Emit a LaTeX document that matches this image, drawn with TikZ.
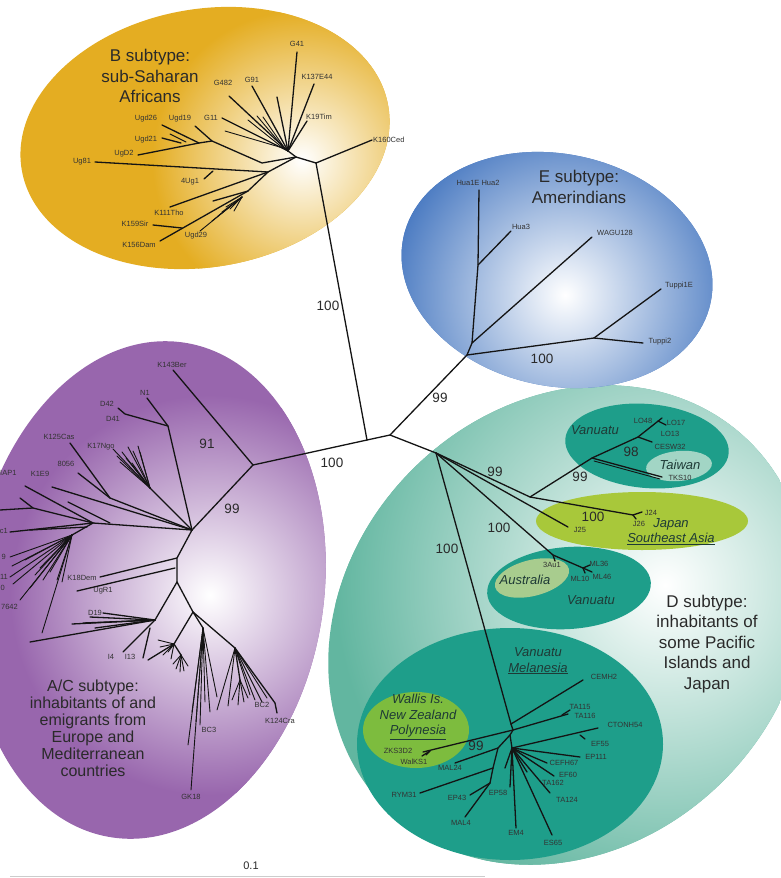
\documentclass[tikz,border=0pt]{standalone}
\usepackage{fontspec}
\setmainfont{Liberation Sans}
\definecolor{bgold}{HTML}{E4AD22}
\definecolor{bblue}{HTML}{4B7BC2}
\definecolor{bpurp}{HTML}{9866AD}
\definecolor{dteal}{HTML}{62B6A0}
\definecolor{vteal}{HTML}{1E9E8A}
\definecolor{twn}{HTML}{A2D5C5}
\definecolor{jpn}{HTML}{A8C83A}
\definecolor{aus}{HTML}{A8CC8E}
\definecolor{wal}{HTML}{7DBC3E}
\definecolor{txt}{HTML}{2A2A2A}
\definecolor{labc}{HTML}{333333}
\definecolor{regc}{HTML}{1E3A36}
\tikzset{
  br/.style={line width=1.3pt, line cap=round, draw=black!92},
  thn/.style={line width=0.9pt, line cap=round, draw=black!92},
  lbl/.style={font=\fontsize{7.5}{8}\selectfont, text=labc, inner sep=0pt},
  boot/.style={font=\fontsize{13.5}{15}\selectfont, text=txt, inner sep=0pt},
  ttl/.style={font=\fontsize{17}{20.5}\selectfont, align=center, text=txt, inner sep=0pt},
  ttlb/.style={font=\fontsize{16}{17}\selectfont, align=center, text=txt, inner sep=0pt},
  reg/.style={font=\itshape\fontsize{13}{15.5}\selectfont, text=regc, inner sep=0pt, align=center},
}
\begin{document}
\begin{tikzpicture}[x=1pt,y=-1pt]
\useasboundingbox (0,0) rectangle (780,878);
\fill[white] (0,0) rectangle (780,878);

% ---------- D outer ellipse ----------
\begin{scope}
\clip[rotate around={45:(568,625)}] (568,625) ellipse [x radius=258, y radius=220];
\fill[dteal] (0,0) rectangle (780,878);
\shade[inner color=white, outer color=dteal] (665,585) circle (330);
\end{scope}
% inner D ellipses
\fill[vteal, rotate around={-5:(647,446)}] (647,446) ellipse [x radius=82, y radius=42];
\fill[twn, rotate around={5:(679,466)}] (679,466) ellipse [x radius=33, y radius=15];
\fill[jpn] (642,521) ellipse [x radius=106, y radius=29];
\fill[vteal, rotate around={4:(569,588)}] (569,588) ellipse [x radius=82, y radius=41];
\fill[aus, rotate around={14:(532,578)}] (532,578) ellipse [x radius=38, y radius=18];
\fill[vteal] (510,744) ellipse [x radius=153, y radius=116];
\fill[wal] (416,730) ellipse [x radius=53, y radius=38];

% ---------- A/C ellipse ----------
\begin{scope}
\clip[rotate around={-8:(148,590)}] (148,590) ellipse [x radius=176, y radius=250];
\fill[bpurp] (0,0) rectangle (780,878);
\shade[inner color=white, outer color=bpurp] (210,595) circle (200);
\end{scope}

% ---------- E ellipse ----------
\begin{scope}
\clip[rotate around={-12:(557,270)}] (557,270) ellipse [x radius=157, y radius=116];
\fill[bblue] (0,0) rectangle (780,878);
\shade[inner color=white, outer color=bblue] (565,295) circle (175);
\end{scope}

% ---------- B ellipse ----------
\begin{scope}
\clip[rotate around={10:(205,138)}] (205,138) ellipse [x radius=186, y radius=129];
\fill[bgold] (0,0) rectangle (780,878);
\shade[inner color=white, outer color=bgold] (302,160) circle (150);
\end{scope}

% ---------- central backbone ----------
\coordinate (c1) at (367,440);
\coordinate (c2) at (390,435);
\coordinate (bR) at (316,163);
\coordinate (eR) at (467,355);
\coordinate (dR) at (436,453);
\coordinate (aR) at (253,465);
\draw[br] (bR) -- (c1) -- (c2) -- (eR);
\draw[br] (c2) -- (dR);
\draw[br] (c1) -- (aR);
\node[boot] (bs1) at (328,306) {100};
\node[boot] (bs2) at (332,463) {100};
\node[boot] (bs3) at (440,398) {99};

% ---------- B subtree ----------
\coordinate (b1) at (296,157);
\coordinate (b2) at (288,151);
\coordinate (n2) at (262,163);
\coordinate (n3) at (212,141);
\coordinate (n3b) at (199,143);
\coordinate (n4) at (268,172);
\coordinate (n5) at (248,191);
\draw[br] (bR) -- (372,140);
\draw[br] (bR) -- (b1) -- (b2);
\foreach \p in {(297,52),(314,84),(307,121),(277,97),(252,86),(229,96),(222,118)} \draw[br] (b2) -- \p;
\draw[thn] (283,148) -- (225,131);
\draw[thn] (283,148) -- (248,120);
\draw[thn] (285,149) -- (257,116);
\draw[thn] (286,150) -- (263,117);
\draw[br] (b1) -- (n2) -- (n3) -- (195,126);
\draw[br] (n3) -- (n3b) -- (162,125);
\draw[br] (n3b) -- (138,155);
\draw[br] (181,143) -- (162,138);
\draw[thn] (186,142) -- (170,134);
\draw[br] (b1) -- (n4) -- (95,162);
\draw[br] (213,171) -- (204,179);
\draw[br] (n4) -- (170,207);
\draw[br] (n4) -- (n5) -- (160,241);
\draw[br] (182,228) -- (153,225);
\draw[br] (n5) -- (213,201);
\foreach \p in {(226,207),(230,209),(234,211),(222,212),(218,216),(212,221),(200,231)} \draw[thn] (242,197) -- \p;
\node[lbl, anchor=west] (k160) at (373,140) {K160Ced};
\node[lbl] (g41) at (297,44) {G41};
\node[lbl] (k137) at (317,77) {K137E44};
\node[lbl] (k19) at (319,117) {K19Tim};
\node[lbl] (g482) at (223,83) {G482};
\node[lbl] (g91) at (252,80) {G91};
\node[lbl] (g11) at (211,118) {G11};
\node[lbl] (u26) at (146,119) {Ugd26};
\node[lbl] (u19) at (180,119) {Ugd19};
\node[lbl] (u21) at (146,140) {Ugd21};
\node[lbl] (ud2) at (124,154) {UgD2};
\node[lbl] (u81) at (82,162) {Ug81};
\node[lbl] (u4) at (190,182) {4Ug1};
\node[lbl] (k111) at (169,213) {K111Tho};
\node[lbl] (k159) at (135,224) {K159Sir};
\node[lbl] (k156) at (139,245) {K156Dam};
\node[lbl] (u29) at (196,236) {Ugd29};
\node[ttl] (bt) at (150,76) {B subtype:\\sub-Saharan\\Africans};

% ---------- E subtree ----------
\coordinate (e1) at (472,343);
\coordinate (e2) at (478,265);
\coordinate (e3) at (594,338);
\draw[br] (eR) -- (e1) -- (e2) -- (479,190);
\draw[br] (e2) -- (511,231);
\draw[br] (e1) -- (592,237);
\draw[br] (eR) -- (e3) -- (661,289);
\draw[br] (e3) -- (643,343);
\node[lbl] (h1e) at (478,183) {Hua1E Hua2};
\node[lbl] (h3) at (521,227) {Hua3};
\node[lbl] (wg) at (615,233) {WAGU128};
\node[lbl] (t1) at (679,286) {Tuppi1E};
\node[lbl] (t2) at (660,342) {Tuppi2};
\node[boot] (be) at (542,359) {100};
\node[ttl] (et) at (579,187) {E subtype:\\Amerindians};

% ---------- A/C subtree ----------
\coordinate (a1) at (192,530);
\coordinate (aN) at (168,426);
\coordinate (kc) at (150,488);
\coordinate (h0) at (110,498);
\coordinate (h1) at (93,523);
\coordinate (hb) at (72,535);
\coordinate (a2) at (177,558);
\coordinate (a3) at (177,582);
\coordinate (a4) at (155,620);
\coordinate (a5) at (193,612);
\coordinate (a6) at (203,628);
\coordinate (a7) at (235,648);
\coordinate (ac) at (174,644);
\draw[br] (aR) -- (173,370);
\draw[br] (aR) -- (a1);
\draw[br] (a1) -- (aN) -- (147,398);
\draw[br] (aN) -- (125,414) -- (118,408);
\draw[br] (a1) -- (kc);
\foreach \p in {(113,449),(122,452),(128,447),(133,451),(138,446),(140,452),(126,458),(120,462),(132,463),(117,456)} \draw[thn] (kc) -- \p;
\draw[br] (a1) -- (h0) -- (70,443);
\draw[br] (h0) -- (78,473);
\draw[br] (a1) -- (52,487);
\draw[br] (a1) -- (h1) -- (25,486);
\draw[br] (h1) -- (33,508) -- (0,510);
\draw[br] (33,508) -- (20,498);
\draw[br] (110,523) -- (68,502);
\draw[br] (h1) -- (10,532);
\draw[br] (87,527) -- (30,530);
\draw[br] (h1) -- (hb);
\foreach \p in {(10,557),(12,566),(10,577),(13,584),(20,600),(43,580),(30,588),(40,568),(25,560),(57,580),(62,582),(42,633),(35,575),(50,572)} \draw[thn] (hb) -- \p;
\draw[br] (a1) -- (a2) -- (a3);
\draw[br] (a2) -- (100,577);
\draw[br] (175,568) -- (77,591);
\draw[br] (a3) -- (a4);
\foreach \p in {(103,613),(30,642),(90,617),(83,623),(72,624),(95,628)} \draw[br] (a4) -- \p;
\draw[br] (a4) -- (123,652);
\draw[br] (150,628) -- (143,658);
\draw[br] (a3) -- (a5);
\draw[br] (a5) -- (ac) -- (148,660);
\foreach \p in {(158,640),(160,647),(163,655),(168,652),(171,659)} \draw[thn] (ac) -- \p;
\foreach \p in {(176,669),(180,672),(184,671),(188,666),(173,664)} \draw[thn] (181,655) -- \p;
\draw[br] (ac) -- (181,655);
\draw[br] (a5) -- (a6);
\foreach \p in {(191,790),(188,745),(192,712),(196,722),(200,725),(210,712),(217,697),(205,702)} \draw[thn] (a6) -- \p;
\draw[br] (a5) -- (a7);
\foreach \p in {(217,710),(228,706),(255,700),(262,702),(267,698),(250,695)} \draw[thn] (a7) -- \p;
\draw[br] (a7) -- (240,680);
\foreach \p in {(232,700),(238,705),(244,702),(248,698)} \draw[thn] (240,680) -- \p;
\draw[br] (a7) -- (275,703) -- (277,713);
\node[lbl] (k143) at (172,365) {K143Ber};
\node[lbl] (nn1) at (145,393) {N1};
\node[lbl] (d42) at (107,404) {D42};
\node[lbl] (d41) at (113,419) {D41};
\node[lbl] (k125) at (59,437) {K125Cas};
\node[lbl] (k17) at (101,447) {K17Ngo};
\node[lbl] (l8056) at (66,464) {8056};
\node[lbl, anchor=west] (iap) at (0,473) {IAP1};
\node[lbl] (k1e9) at (40,474) {K1E9};
\node[lbl, anchor=east] (lc1) at (8,531) {c1};
\node[lbl, anchor=east] (l9) at (6,557) {9};
\node[lbl, anchor=east] (l11) at (8,577) {11};
\node[lbl, anchor=east] (l0) at (5,588) {0};
\node[lbl, anchor=east] (l7642) at (18,607) {7642};
\node[lbl] (k18) at (82,578) {K18Dem};
\node[lbl] (ugr) at (103,591) {UgR1};
\node[lbl] (d19) at (95,613) {D19};
\node[lbl] (i4) at (111,657) {I4};
\node[lbl] (i13) at (130,657) {I13};
\node[lbl] (bc2) at (262,705) {BC2};
\node[lbl] (k124) at (280,721) {K124Cra};
\node[lbl] (bc3) at (209,730) {BC3};
\node[lbl] (gk18) at (191,797) {GK18};
\node[boot] (b91) at (207,444) {91};
\node[boot] (b99a) at (232,509) {99};
\node[ttlb] (at) at (93,728) {A/C subtype:\\inhabitants of and\\emigrants from\\Europe and\\Mediterranean\\countries};

% ---------- D subtree ----------
\coordinate (d1) at (530,497);
\coordinate (d2) at (592,458);
\coordinate (d3) at (638,437);
\coordinate (dj) at (633,515);
\coordinate (dau) at (553,555);
\coordinate (dml) at (583,568);
\coordinate (dm) at (511,724);
\draw[br] (dR) -- (d1) -- (d2) -- (d3) -- (662,418);
\draw[br] (658,421) -- (666,425);
\draw[br] (d3) -- (652,442);
\draw[br] (d2) -- (662,477);
\draw[thn] (594,461) -- (660,479);
\draw[br] (d1) -- (dj);
\draw[br] (dj) -- (642,512);
\draw[br] (dj) -- (636,519);
\draw[br] (dR) -- (568,527);
\draw[br] (dR) -- (dau) -- (dml);
\draw[br] (dau) -- (555,561);
\draw[br] (dml) -- (590,565);
\draw[br] (dml) -- (592,572);
\draw[br] (dml) -- (585,573);
\draw[br] (dR) -- (dm);
\node[lbl] (lo48) at (643,421) {LO48};
\node[lbl] (lo17) at (676,423) {LO17};
\node[lbl] (lo13) at (670,434) {LO13};
\node[lbl] (cesw) at (670,447) {CESW32};
\node[lbl] (tks) at (680,478) {TKS10};
\node[lbl] (j24) at (651,513) {J24};
\node[lbl] (j26) at (639,524) {J26};
\node[lbl] (j25) at (580,530) {J25};
\node[lbl] (au1) at (552,565) {3Au1};
\node[lbl] (ml36) at (599,564) {ML36};
\node[lbl] (ml10) at (580,579) {ML10};
\node[lbl] (ml46) at (602,577) {ML46};
\node[boot] (b98) at (631,452) {98};
\node[boot] (b99b) at (580,477) {99};
\node[boot] (b99c) at (495,472) {99};
\node[boot] (b100a) at (593,517) {100};
\node[boot] (b100b) at (499,528) {100};
\node[boot] (b100c) at (447,549) {100};
% Melanesia
\coordinate (m1) at (513,730);
\coordinate (m2) at (510,735);
\coordinate (m3) at (512,748);
\coordinate (ml) at (498,748);
\coordinate (ml2) at (493,768);
\draw[br] (dm) -- (583,680);
\draw[br] (dm) -- (m1) -- (m2) -- (m3);
\draw[br] (m1) -- (568,714);
\draw[br] (562,715) -- (570,710);
\draw[br] (m1) -- (423,752);
\draw[br] (430,751) -- (422,756);
\draw[br] (430,751) -- (426,755);
\draw[br] (m3) -- (598,728);
\draw[br] (580,735) -- (585,739);
\draw[br] (m3) -- (580,757);
\draw[br] (m3) -- (547,763);
\draw[br] (m3) -- (554,776);
\draw[br] (m3) -- (527,772);
\draw[br] (m3) -- (550,793);
\draw[br] (m3) -- (552,835);
\draw[br] (m3) -- (516,828);
\draw[br] (m3) -- (510,787);
\draw[br] (m3) -- (505,768);
\draw[br] (m2) -- (ml) -- (455,763);
\draw[br] (ml) -- (ml2) -- (420,793);
\draw[br] (ml2) -- (490,783) -- (470,795);
\draw[br] (490,783) -- (465,817);
\node[lbl] (cemh) at (604,677) {CEMH2};
\node[lbl] (ta115) at (580,707) {TA115};
\node[lbl] (ta116) at (585,716) {TA116};
\node[lbl] (cton) at (625,725) {CTONH54};
\node[lbl] (ef55) at (600,744) {EF55};
\node[lbl] (ep111) at (596,757) {EP111};
\node[lbl] (cefh) at (564,763) {CEFH67};
\node[lbl] (ef60) at (568,775) {EF60};
\node[lbl] (ta162) at (553,783) {TA162};
\node[lbl] (ta124) at (567,800) {TA124};
\node[lbl] (es65) at (553,843) {ES65};
\node[lbl] (em4) at (516,833) {EM4};
\node[lbl] (ep58) at (498,793) {EP58};
\node[lbl] (ep43) at (457,798) {EP43};
\node[lbl] (mal4) at (461,823) {MAL4};
\node[lbl] (rym) at (404,795) {RYM31};
\node[lbl] (mal24) at (450,768) {MAL24};
\node[lbl] (zks) at (398,751) {ZKS3D2};
\node[lbl] (walk) at (414,762) {WalKS1};
\node[boot] (b99d) at (476,746) {99};
% region labels
\node[reg] (rv1) at (595,430) {Vanuatu};
\node[reg] (rtw) at (680,465) {Taiwan};
\node[reg] (rjp) at (671,524) {Japan};
\node[reg] (rsea) at (671,539) {\underline{Southeast Asia}};
\node[reg] (rau) at (525,580) {Australia};
\node[reg] (rv2) at (591,600) {Vanuatu};
\node[reg] (rv3) at (538,661) {Vanuatu\\\underline{Melanesia}};
\node[reg] (rwal) at (418,717) {Wallis Is.\\New Zealand\\\underline{Polynesia}};
\node[ttl] (dt) at (707,644) {D subtype:\\inhabitants of\\some Pacific\\Islands and\\Japan};

% scale
\draw[black!20, line width=0.8pt] (10,876) -- (485,876);
\node[font=\fontsize{11}{12}\selectfont, text=txt] (sc) at (251,866) {0.1};
\end{tikzpicture}
\end{document}
